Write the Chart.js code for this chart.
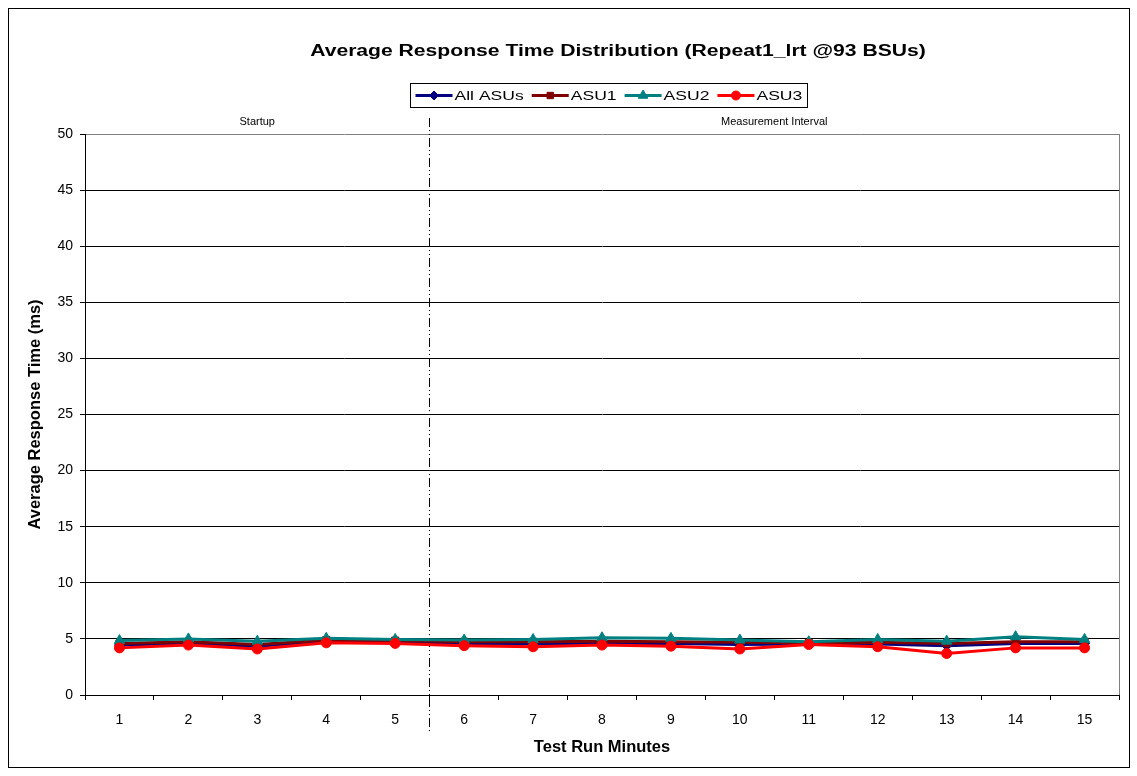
<!DOCTYPE html>
<html>
<head>
<meta charset="utf-8">
<title>Average Response Time Distribution</title>
<script src="https://cdn.jsdelivr.net/npm/chart.js@4.4.1/dist/chart.umd.min.js"></script>
<style>
html, body { margin: 0; padding: 0; background: #fff; }
#wrap { width: 1137px; height: 776px; position: relative; }
</style>
</head>
<body>
<div id="wrap"><canvas id="rtChart"></canvas></div>
<script>
// minutes of the test run
const minutes = ['1','2','3','4','5','6','7','8','9','10','11','12','13','14','15'];

// average response time per minute (ms)
const allAsus = [4.45, 4.6, 4.35, 4.8, 4.7, 4.6, 4.55, 4.6, 4.6, 4.5, 4.55, 4.55, 4.4, 4.6, 4.6];
const asu1    = [4.6, 4.75, 4.5, 4.9, 4.85, 4.75, 4.75, 4.8, 4.75, 4.7, 4.65, 4.7, 4.6, 4.75, 4.75];
const asu2    = [4.85, 5.0, 4.8, 5.05, 4.95, 4.9, 4.95, 5.1, 5.05, 4.9, 4.75, 4.95, 4.8, 5.2, 4.95];
const asu3    = [4.2, 4.45, 4.1, 4.65, 4.6, 4.4, 4.3, 4.45, 4.35, 4.1, 4.5, 4.3, 3.7, 4.2, 4.2];

const seriesNames = ['All ASUs', 'ASU1', 'ASU2', 'ASU3'];
const phaseNames = ['Startup', 'Measurement Interval'];
const startupMinutes = 5;
const chartTitle = 'Average Response Time Distribution (Repeat1_lrt @93 BSUs)';

const FONT = "'Liberation Sans', Arial, sans-serif";
Chart.defaults.color = '#000';
Chart.defaults.font.family = FONT;

function series(label, data, color, style, order) {
  return {
    label: label,
    data: data,
    borderColor: color,
    backgroundColor: color,
    borderWidth: 3,
    pointStyle: style,
    pointRadius: style === 'triangle' ? 6 : 5,
    pointBorderWidth: 1,
    pointHoverRadius: 5,
    tension: 0,
    order: order
  };
}

// text drawn a little wider than the font's natural width
function wideText(ctx, text, x, y, stretch, align) {
  const w = ctx.measureText(text).width * stretch;
  let left = x;
  if (align === 'center') left = x - w / 2;
  ctx.save();
  ctx.translate(left, y);
  ctx.scale(stretch, 1);
  ctx.textAlign = 'left';
  ctx.fillText(text, 0, 0);
  ctx.restore();
  return w;
}

// dash-dot phase marker, phase captions, plot frame, title and legend
const decorations = {
  id: 'decorations',
  beforeDatasetsDraw(chart) {
    const {ctx, chartArea, scales} = chart;
    const x = Math.round((scales.x.getPixelForValue(startupMinutes - 1) +
                          scales.x.getPixelForValue(startupMinutes)) / 2) - 0.5;
    ctx.save();
    ctx.strokeStyle = '#000';
    ctx.lineWidth = 1;
    ctx.setLineDash([9, 3, 1, 3, 1, 3]);
    ctx.beginPath();
    ctx.moveTo(x, chartArea.top - 16);
    ctx.lineTo(x, chartArea.bottom + 39);
    ctx.stroke();
    ctx.setLineDash([]);

    // right edge of the plot area
    ctx.strokeStyle = '#808080';
    ctx.beginPath();
    ctx.moveTo(Math.round(chartArea.right) + 0.5, chartArea.top);
    ctx.lineTo(Math.round(chartArea.right) + 0.5, chartArea.bottom);
    ctx.stroke();

    ctx.fillStyle = '#000';
    ctx.font = '11px ' + FONT;
    ctx.textAlign = 'center';
    ctx.textBaseline = 'middle';
    ctx.fillText(phaseNames[0], (chartArea.left + x) / 2, chartArea.top - 12);
    ctx.fillText(phaseNames[1], (x + chartArea.right) / 2, chartArea.top - 12);
    ctx.restore();
  },
  afterDraw(chart) {
    const {ctx} = chart;
    ctx.save();
    // outer frame
    ctx.strokeStyle = '#000';
    ctx.lineWidth = 1;
    ctx.strokeRect(8.5, 8.5, 1121, 759);

    // title
    ctx.fillStyle = '#000';
    ctx.font = 'bold 16px ' + FONT;
    ctx.textBaseline = 'middle';
    wideText(ctx, chartTitle, 618, 52, 1.32, 'center');

    // legend
    ctx.font = '13px ' + FONT;
    const stretch = 1.35;
    const lineLen = 37, gapAfterLine = 2, gapAfterText = 8, padX = 5;
    const items = chart.data.datasets.map(ds => ({ds, w: ctx.measureText(ds.label).width * stretch}));
    let total = padX * 2;
    items.forEach(it => { total += lineLen + gapAfterLine + it.w + gapAfterText; });
    total -= gapAfterText;
    const cx = 608, top = 83.5, h = 24;
    const left = Math.round(cx - total / 2) + 0.5;
    ctx.strokeStyle = '#000';
    ctx.lineWidth = 1;
    ctx.strokeRect(left, top, Math.round(total), h);
    let px = left + padX;
    const cy = top + h / 2;
    items.forEach(it => {
      const ds = it.ds;
      ctx.strokeStyle = ds.borderColor;
      ctx.lineWidth = 3;
      ctx.beginPath();
      ctx.moveTo(px, cy);
      ctx.lineTo(px + lineLen, cy);
      ctx.stroke();
      ctx.fillStyle = ds.backgroundColor;
      ctx.lineWidth = 1;
      Chart.helpers.drawPoint(ctx, {
        pointStyle: ds.pointStyle,
        radius: ds.pointStyle === 'triangle' ? 5.5 : 4.5,
        rotation: 0,
        borderWidth: 1
      }, px + lineLen / 2, cy);
      px += lineLen + gapAfterLine;
      ctx.fillStyle = '#000';
      ctx.textBaseline = 'middle';
      wideText(ctx, ds.label, px, cy + 1, stretch, 'left');
      px += it.w + gapAfterText;
    });
    ctx.restore();
  }
};

new Chart(document.getElementById('rtChart'), {
  type: 'line',
  data: {
    labels: minutes,
    datasets: [
      series(seriesNames[0], allAsus, '#000080', 'rectRot', 4),
      series(seriesNames[1], asu1, '#800000', 'rect', 3),
      series(seriesNames[2], asu2, '#008080', 'triangle', 2),
      series(seriesNames[3], asu3, '#FF0000', 'circle', 1)
    ]
  },
  options: {
    responsive: true,
    maintainAspectRatio: false,
    animation: false,
    layout: { padding: { left: 0, right: 18, top: 134, bottom: 0 } },
    plugins: {
      legend: { display: false },
      tooltip: { enabled: false },
      title: { display: false }
    },
    scales: {
      x: {
        type: 'category',
        offset: true,
        afterFit(scale) { scale.height = 81; },
        grid: {
          offset: true,
          drawOnChartArea: false,
          drawTicks: true,
          tickLength: 5,
          tickColor: '#000'
        },
        border: { display: true, color: '#000', width: 1 },
        ticks: { font: { size: 14 }, color: '#000', padding: 12, maxRotation: 0 },
        title: {
          display: true,
          text: 'Test Run Minutes',
          font: { size: 16.5, weight: 'bold' },
          color: '#000',
          padding: { top: 0, bottom: 19 }
        }
      },
      y: {
        min: 0,
        max: 50,
        afterFit(scale) { scale.width = 85; },
        grid: {
          color: c => (c.tick && c.tick.value === 50 ? '#808080' : '#000'),
          lineWidth: 1,
          drawTicks: true,
          tickLength: 5,
          tickColor: '#000'
        },
        border: { display: true, color: '#000', width: 1 },
        ticks: { stepSize: 5, font: { size: 14 }, color: '#000', padding: 7 },
        title: {
          display: true,
          text: 'Average Response Time (ms)',
          font: { size: 16.5, weight: 'bold' },
          color: '#000',
          padding: { top: 26, bottom: 0 }
        }
      }
    }
  },
  plugins: [decorations]
});
</script>
</body>
</html>
